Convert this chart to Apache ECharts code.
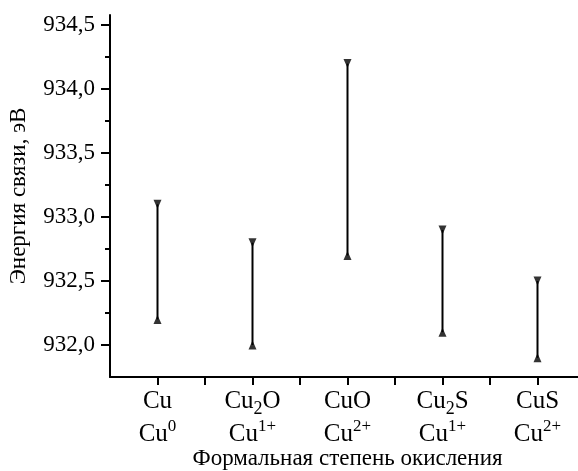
<!DOCTYPE html>
<html>
<head>
<meta charset="utf-8">
<script src="https://cdn.jsdelivr.net/npm/echarts@6/dist/echarts.min.js"></script>
<style>
html,body{margin:0;padding:0;background:#fff;}
#chart{width:578px;height:471px;}
</style>
</head>
<body>
<div id="chart"></div>
<script>
// соединения и формальная степень окисления
var compounds = ['Cu', 'Cu{s|2}O', 'CuO', 'Cu{s|2}S', 'CuS'];
var states = ['0', '1+', '2+', '1+', '2+'];
// границы энергии связи, эВ
var highE = [933.1, 932.8, 934.2, 932.9, 932.5];
var lowE = [932.2, 932.0, 932.7, 932.1, 931.9];

var FONT = 'Liberation Serif';
var chart = echarts.init(document.getElementById('chart'));

var topPts = [], lowPts = [], ranges = [];
for (var i = 0; i < compounds.length; i++) {
    topPts.push([i + 1, highE[i]]);
    lowPts.push([i + 1, lowE[i]]);
    ranges.push([i + 1, lowE[i], highE[i]]);
}

function fmtNum(v) {
    return v.toFixed(1).replace('.', ',');
}

var option = {
    animation: false,
    backgroundColor: '#fff',
    grid: [
        // основная область: оси и данные
        {left: 110, right: -7, top: 15, bottom: 94, outerBoundsMode: 'none'},
        // деления и подписи оси Y (932,0 .. 934,5)
        {left: 110, right: -7, top: 25.2, bottom: 126, outerBoundsMode: 'none'},
        // деления и подписи оси X (1 .. 5)
        {left: 157.5, right: 40.5, top: 15, bottom: 94, outerBoundsMode: 'none'}
    ],
    xAxis: [
        {
            gridIndex: 0, type: 'value', min: 0.5, max: 5.5,
            name: 'Формальная степень окисления', nameLocation: 'middle', nameGap: 70,
            nameTextStyle: {fontFamily: FONT, fontSize: 23, color: '#000'},
            axisLine: {show: true, lineStyle: {color: '#000', width: 2}},
            axisTick: {show: false}, axisLabel: {show: false}, splitLine: {show: false}
        },
        {
            gridIndex: 1, type: 'value', min: 0.5, max: 5.5, show: false
        },
        {
            gridIndex: 2, type: 'value', min: 1, max: 5, interval: 0.5,
            axisLine: {show: false},
            axisTick: {show: true, inside: false, length: 8, lineStyle: {color: '#000', width: 2}},
            splitLine: {show: false},
            axisLabel: {
                margin: 8, fontFamily: FONT, fontSize: 25, color: '#000', lineHeight: 33,
                formatter: function (v) {
                    if (Math.abs(v - Math.round(v)) > 1e-6) return '';
                    var k = Math.round(v) - 1;
                    return compounds[k] + '\nCu{p|' + states[k] + '}';
                },
                rich: {
                    s: {fontFamily: FONT, fontSize: 18, color: '#000', verticalAlign: 'bottom', lineHeight: 19},
                    p: {fontFamily: FONT, fontSize: 17, color: '#000', verticalAlign: 'top', lineHeight: 23}
                }
            }
        }
    ],
    yAxis: [
        {
            gridIndex: 0, type: 'value', min: 931.75, max: 934.58,
            name: 'Энергия связи, эВ', nameLocation: 'middle', nameGap: 80,
            nameTextStyle: {fontFamily: FONT, fontSize: 23, color: '#000'},
            axisLine: {show: true, lineStyle: {color: '#000', width: 2}},
            axisTick: {show: false}, axisLabel: {show: false}, splitLine: {show: false}
        },
        {
            gridIndex: 1, type: 'value', min: 932, max: 934.5, interval: 0.5,
            axisLine: {show: false},
            axisTick: {show: true, length: 9, lineStyle: {color: '#000', width: 2}},
            minorTick: {show: true, splitNumber: 2, length: 5, lineStyle: {color: '#000', width: 2}},
            splitLine: {show: false},
            axisLabel: {margin: 15, fontFamily: FONT, fontSize: 23, color: '#000', formatter: fmtNum}
        },
        {
            gridIndex: 2, type: 'value', min: 931.75, max: 934.58, show: false
        }
    ],
    series: [
        {
            type: 'custom',
            xAxisIndex: 0, yAxisIndex: 0,
            data: ranges,
            renderItem: function (params, api) {
                var p1 = api.coord([api.value(0), api.value(1)]);
                var p2 = api.coord([api.value(0), api.value(2)]);
                return {
                    type: 'line',
                    shape: {x1: p1[0], y1: p1[1], x2: p2[0], y2: p2[1]},
                    style: {stroke: '#000', lineWidth: 2}
                };
            }
        },
        {
            type: 'scatter', xAxisIndex: 0, yAxisIndex: 0,
            data: topPts, symbol: 'triangle', symbolRotate: 180, symbolSize: [8, 9],
            itemStyle: {color: '#000'}
        },
        {
            type: 'scatter', xAxisIndex: 0, yAxisIndex: 0,
            data: lowPts, symbol: 'triangle', symbolSize: [8, 9],
            itemStyle: {color: '#000'}
        }
    ]
};

chart.setOption(option);
</script>
</body>
</html>
